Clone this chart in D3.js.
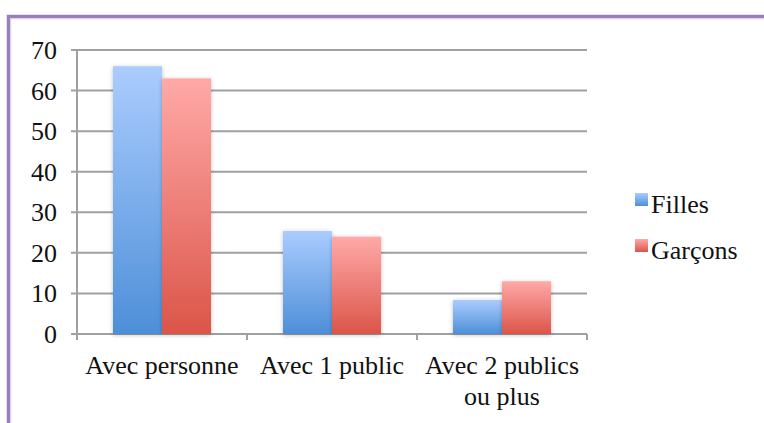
<!DOCTYPE html>
<html><head><meta charset="utf-8">
<script src="https://cdn.jsdelivr.net/npm/d3@7"></script>
<style>
html,body{margin:0;padding:0;background:#fff;}
svg{display:block;}
text{font-family:"Liberation Serif","Times New Roman",serif;fill:#111;}
</style></head>
<body>
<svg id="c" width="764" height="423"></svg>
<script>
const categories = [["Avec personne"], ["Avec 1 public"], ["Avec 2 publics", "ou plus"]];
const seriesNames = ["Filles", "Garçons"];
const filles = [66, 25.4, 8.4];
const garcons = [63, 24, 13];
const yTicks = [0, 10, 20, 30, 40, 50, 60, 70];

const svg = d3.select("#c");
const defs = svg.append("defs");
const grads = [["gF", "#abccff", "#4d8fd8"], ["gG", "#ffa9a7", "#db5549"]];
grads.forEach(([id, c1, c2]) => {
  const g = defs.append("linearGradient").attr("id", id).attr("x1", 0).attr("y1", 0).attr("x2", 0).attr("y2", 1);
  g.append("stop").attr("offset", "0%").attr("stop-color", c1);
  g.append("stop").attr("offset", "100%").attr("stop-color", c2);
});
const f = defs.append("filter").attr("id", "sh").attr("x", "-20%").attr("y", "-20%").attr("width", "140%").attr("height", "140%");
f.append("feDropShadow").attr("dx", 0).attr("dy", 1).attr("stdDeviation", 2).attr("flood-color", "#000").attr("flood-opacity", 0.25);

// frame
svg.append("rect").attr("x", 8.5).attr("y", 16.5).attr("width", 800).attr("height", 500)
  .attr("fill", "none").attr("stroke", "#9a80b9").attr("stroke-width", 3.5);
svg.append("rect").attr("x", 10.8).attr("y", 18.8).attr("width", 800).attr("height", 500)
  .attr("fill", "none").attr("stroke", "#d9cfe6").attr("stroke-width", 1);

const pLeft = 77, pRight = 587, pTop = 50, pBottom = 334;
const x0 = d3.scaleBand().domain(d3.range(categories.length)).range([pLeft, pRight]);
const bw = 49;
const x1 = d3.scaleBand().domain(seriesNames).range([x0.bandwidth() / 2 - bw, x0.bandwidth() / 2 + bw]);
const y = d3.scaleLinear().domain([0, 70]).range([pBottom, pTop]);

// gridlines
svg.append("g").selectAll("line").data(yTicks).join("line")
  .attr("x1", pLeft - 6).attr("x2", pRight).attr("y1", d => y(d)).attr("y2", d => y(d))
  .attr("stroke", "#a0a0a0").attr("stroke-width", 2);
// y axis
svg.append("line").attr("x1", pLeft).attr("x2", pLeft).attr("y1", pTop).attr("y2", pBottom + 6)
  .attr("stroke", "#a0a0a0").attr("stroke-width", 2);
// category ticks
svg.append("g").selectAll("line").data(d3.range(categories.length + 1)).join("line")
  .attr("x1", d => pLeft + d * x0.bandwidth()).attr("x2", d => pLeft + d * x0.bandwidth())
  .attr("y1", pBottom).attr("y2", pBottom + 6).attr("stroke", "#a0a0a0").attr("stroke-width", 2);

// y labels
svg.append("g").selectAll("text").data(yTicks).join("text")
  .attr("x", 57).attr("y", d => y(d) + 9).attr("text-anchor", "end")
  .attr("font-size", 26).text(d => d);

// bars
const data = [filles, garcons];
const groups = svg.append("g");
categories.forEach((c, i) => {
  seriesNames.forEach((s, j) => {
    groups.append("rect")
      .attr("x", x0(i) + x1(s)).attr("width", x1.bandwidth())
      .attr("y", y(data[j][i])).attr("height", pBottom - y(data[j][i]))
      .attr("fill", j === 0 ? "url(#gF)" : "url(#gG)")
      .attr("filter", "url(#sh)");
  });
});

// category labels
categories.forEach((lines, i) => {
  const cx = x0(i) + x0.bandwidth() / 2;
  const t = svg.append("text").attr("text-anchor", "middle").attr("font-size", 26)
    .attr("x", cx).attr("y", 374);
  lines.forEach((l, k) => t.append("tspan").attr("x", cx).attr("dy", k === 0 ? 0 : 31).text(l));
});

// legend
seriesNames.forEach((s, j) => {
  const ly = 193 + j * 46;
  svg.append("rect").attr("x", 635).attr("y", ly).attr("width", 13).attr("height", 13)
    .attr("fill", j === 0 ? "url(#gF)" : "url(#gG)");
  svg.append("text").attr("x", 651).attr("y", ly + 20).attr("font-size", 26).text(s);
});
</script>
</body></html>
